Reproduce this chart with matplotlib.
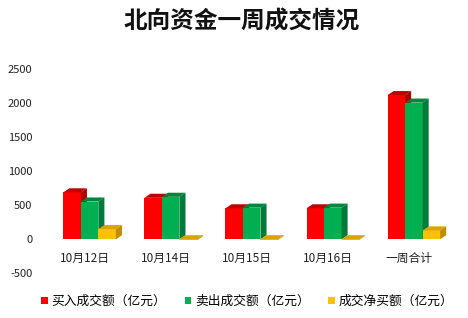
import matplotlib
matplotlib.use("Agg")
import matplotlib.pyplot as plt
from matplotlib.patches import Polygon, Patch
import numpy as np

plt.rcParams['font.family'] = ['Noto Sans CJK SC', 'DejaVu Sans']

categories = ['10月12日', '10月14日', '10月15日', '10月16日', '一周合计']
buy = [690, 610, 455, 455, 2120]
sell = [555, 625, 465, 465, 2010]
net = [150, -15, -10, -10, 130]
series_names = ['买入成交额（亿元）', '卖出成交额（亿元）', '成交净买额（亿元）']
y_ticks = [-500, 0, 500, 1000, 1500, 2000, 2500]
title = '北向资金一周成交情况'

front = ['#FF0000', '#00B050', '#FFC000']
top_c = ['#C00000', '#00853C', '#D9A300']
side_c = ['#B00000', '#007A38', '#C08C00']

fig = plt.figure(figsize=(4.68, 3.18), dpi=100)
W, H = 468, 318
left, right = 45 / W, 457.6 / W
bottom, top = (H - 273.3) / H, (H - 69.3) / H
ax = fig.add_axes([left, bottom, right - left, top - bottom])
ax.set_xlim(-0.49, 4.6)
ax.set_ylim(-500, 2500)

w = 0.216
shift = 0.06
dx = 0.075
dy = 60
x = np.arange(len(categories))
for k, vals in enumerate([buy, sell, net]):
    centers = x + shift + (k - 1) * w
    ax.bar(centers, vals, width=w, color=front[k], zorder=3 + k, linewidth=0)
    for c, v in zip(centers, vals):
        x0, x1 = c - w / 2, c + w / 2
        t = max(v, 0)
        b = min(v, 0)
        ax.add_patch(Polygon([(x0, t), (x0 + dx, t + dy), (x1 + dx, t + dy), (x1, t)],
                             closed=True, facecolor=top_c[k], linewidth=0, zorder=3 + k))
        ax.add_patch(Polygon([(x1, b), (x1, t), (x1 + dx, t + dy), (x1 + dx, b + dy)],
                             closed=True, facecolor=side_c[k], linewidth=0, zorder=3 + k))

for s in ax.spines.values():
    s.set_visible(False)
ax.spines['bottom'].set_position(('data', 0))
ax.set_xticks(x)
ax.set_xticklabels(categories, fontsize=8.5, color='#222222')
ax.tick_params(axis='x', length=0, pad=9)
ax.set_yticks(y_ticks)
ax.set_yticklabels([str(v) for v in y_ticks], fontsize=8, color='#222222')
ax.tick_params(axis='y', length=0, pad=9)

fig.text(242 / W, 1 - 22 / H, title, ha='center', va='center', fontsize=17,
         fontweight='bold', color='#111111')

handles = [Patch(facecolor=front[k], edgecolor='none') for k in range(3)]
fig.legend(handles, series_names, loc='center', bbox_to_anchor=(0.528, 1 - 301.5 / H),
           ncol=3, frameon=False, fontsize=9.2, handlelength=0.5, handleheight=0.5,
           handletextpad=0.3, columnspacing=1.45, borderaxespad=0)

fig.savefig('out.png', dpi=100)
